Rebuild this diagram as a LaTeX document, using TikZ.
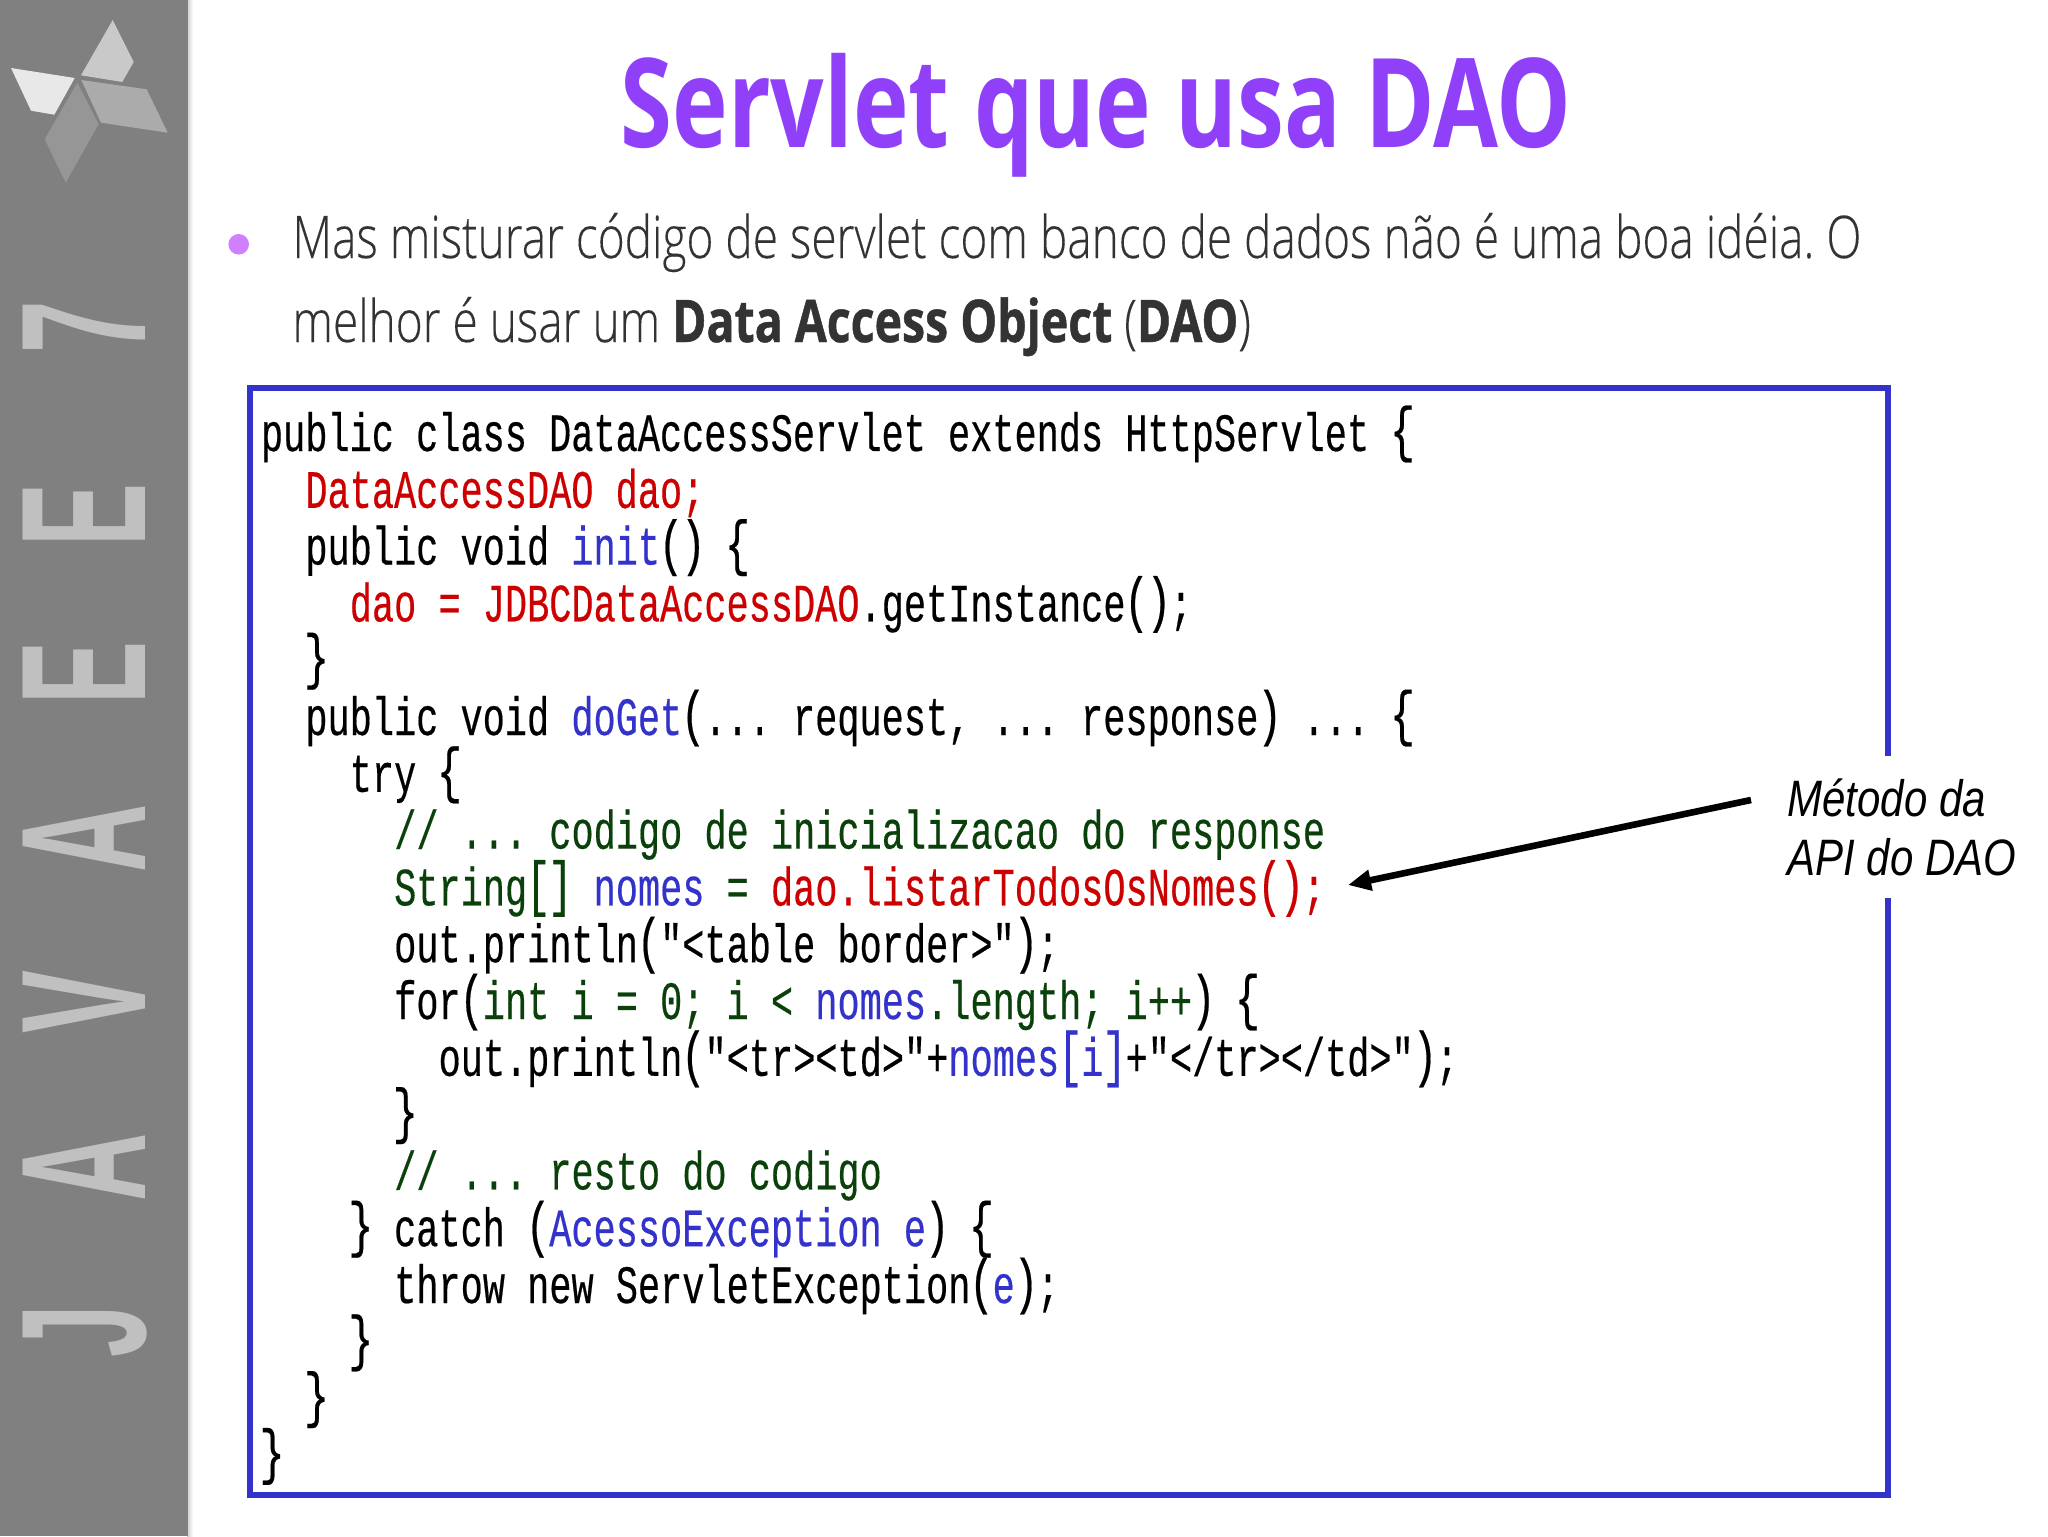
\documentclass[tikz,border=0pt]{standalone}
\usepackage{fontspec}
\usetikzlibrary{arrows.meta}
\frenchspacing
\newfontfamily\codef[FakeStretch=0.684,FakeBold=0.35]{Liberation Mono}
\newfontfamily\titlef[FakeStretch=0.759]{Open Sans}
\newfontfamily\bodyf[FakeStretch=0.782,FakeBold=0.15]{Open Sans Light}
\newfontfamily\bodyheavy[FakeStretch=0.79,FakeBold=0.8]{Open Sans}
\newfontfamily\notef[FakeStretch=0.82]{Liberation Sans}
\newfontfamily\sidef[FakeStretch=0.53]{Liberation Sans}
\definecolor{sidegray}{HTML}{808080}
\definecolor{sideletter}{HTML}{C0C0C0}
\definecolor{titlepurple}{HTML}{9040F8}
\definecolor{bulletpink}{HTML}{D080FF}
\definecolor{bodytext}{HTML}{333333}
\definecolor{boxblue}{HTML}{3333CC}
\definecolor{codered}{HTML}{CC0000}
\definecolor{codeblue}{HTML}{3333CC}
\definecolor{codegreen}{HTML}{0A400A}
\newcommand{\cred}[1]{\textcolor{codered}{#1}}
\newcommand{\cblu}[1]{\textcolor{codeblue}{#1}}
\newcommand{\cgrn}[1]{\textcolor{codegreen}{#1}}
\newcommand{\hvy}[1]{{\bodyheavy\bfseries #1}}
\newcommand{\kbk}[1]{\makebox[11.07pt][c]{\smash{\raisebox{0.6pt}{\fontsize{30.5}{32}\selectfont #1}}}}
\tikzset{
  codeline/.style={anchor=base west,inner sep=0pt,outer sep=0pt,font=\codef\fontsize{27}{30}\selectfont,text=black},
  sideletterstyle/.style={anchor=base,rotate=90,inner sep=0pt,text=sideletter,font=\sidef\bfseries\fontsize{89}{94}\selectfont},
  bodyline/.style={anchor=base west,inner sep=0pt,text=bodytext,font=\bodyf\fontsize{29.4}{32}\selectfont},
}
\begin{document}
\begin{tikzpicture}[x=0.5pt,y=-0.5pt]
\useasboundingbox (0,0) rectangle (2048,1536);
\fill[white] (0,0) rectangle (2048,1536);
% sidebar
\shade[left color=black!20,right color=white] (187,0) rectangle (193,1536);
\fill[sidegray] (0,0) rectangle (187.5,1536);
% logo
\fill[black!21] (112.7,20) -- (133.7,62) -- (122.3,82) -- (81,75.3) -- cycle;
\fill[black!9] (11,68) -- (74.7,78) -- (54.3,114.7) -- (31,110.7) -- cycle;
\fill[black!33] (81.3,80) -- (146.7,89.3) -- (167.7,132.7) -- (101,122.7) -- cycle;
\fill[black!41] (77.3,82.7) -- (98.7,124) -- (65.7,182.7) -- (44.7,139.3) -- cycle;
% side letters
\node[sideletterstyle] (s1) at (145,1331) {J};
\node[sideletterstyle] (s2) at (145,1167) {A};
\node[sideletterstyle] (s3) at (145,1002) {V};
\node[sideletterstyle] (s4) at (145,838) {A};
\node[sideletterstyle] (s5) at (145,673) {E};
\node[sideletterstyle] (s6) at (145,515) {E};
\node[sideletterstyle] (s7) at (145,327) {7};
% title
\node[anchor=base,inner sep=0pt,text=titlepurple,font=\titlef\bfseries\fontsize{62}{70}\selectfont] (title) at (1096,148) {Servlet que usa DAO};
% bullet
\fill[bulletpink] (238.7,244.3) circle (10.3);
\node[bodyline] (b1) at (292,258) {Mas misturar código de servlet com banco de dados não é uma boa idéia. O};
\node[bodyline] (b2) at (292,342) {melhor é usar um \hvy{Data Access Object} (\hvy{DAO})};
% code box
\draw[boxblue,line width=3pt] (250,388) rectangle (1888,1495);
\fill[white] (1780,756) rectangle (2048,898);
% code
\begin{scope}[yshift=-1pt]
\node[codeline] (l0) at (261,449) {public class DataAccessServlet extends HttpServlet \kbk{\{}};
\node[codeline] (l1) at (305.4,505.8) {\cred{DataAccessDAO dao;}};
\node[codeline] (l2) at (305.4,562.6) {public void \cblu{init}\kbk{(}\kbk{)} \kbk{\{}};
\node[codeline] (l3) at (349.8,619.4) {\cred{dao = JDBCDataAccessDAO}.getInstance\kbk{(}\kbk{)};};
\node[codeline] (l4) at (305.4,676.2) {\kbk{\}}};
\node[codeline] (l5) at (305.4,733) {public void \cblu{doGet}\kbk{(}... request, ... response\kbk{)} ... \kbk{\{}};
\node[codeline] (l6) at (349.8,789.8) {try \kbk{\{}};
\node[codeline] (l7) at (394.2,846.6) {\cgrn{// ... codigo de inicializacao do response}};
\node[codeline] (l8) at (394.2,903.4) {\cgrn{String\kbk{[}\kbk{]}} \cblu{nomes} \cgrn{=} \cred{dao.listarTodosOsNomes\kbk{(}\kbk{)};}};
\node[codeline] (l9) at (394.2,960.2) {out.println\kbk{(}"<table border>"\kbk{)};};
\node[codeline] (l10) at (394.2,1017) {for\kbk{(}\cgrn{int i = 0; i < }\cblu{nomes}\cgrn{.length; i++}\kbk{)} \kbk{\{}};
\node[codeline] (l11) at (438.6,1073.8) {out.println\kbk{(}"<tr><td>"+\cblu{nomes\kbk{[}i\kbk{]}}+"</tr></td>"\kbk{)};};
\node[codeline] (l12) at (394.2,1130.6) {\kbk{\}}};
\node[codeline] (l13) at (394.2,1187.4) {\cgrn{// ... resto do codigo}};
\node[codeline] (l14) at (349.8,1244.2) {\kbk{\}} catch \kbk{(}\cblu{AcessoException e}\kbk{)} \kbk{\{}};
\node[codeline] (l15) at (394.2,1301) {throw new ServletException\kbk{(}\cblu{e}\kbk{)};};
\node[codeline] (l16) at (349.8,1357.8) {\kbk{\}}};
\node[codeline] (l17) at (305.4,1414.6) {\kbk{\}}};
\node[codeline] (l18) at (261,1471.4) {\kbk{\}}};
\end{scope}
% note
\node[anchor=base west,inner sep=0pt,align=left,text=black,font=\notef\itshape\fontsize{25.6}{29.5}\selectfont] (note) at (1787,875) {Método da\\API do DAO};
\coordinate (arrowstart) at (1751,800);
\coordinate (arrowtip) at (1348,885);
\draw[-{Triangle[length=11.5pt,width=10pt]},line width=3.3pt,black] (arrowstart) -- (arrowtip);
\end{tikzpicture}
\end{document}
